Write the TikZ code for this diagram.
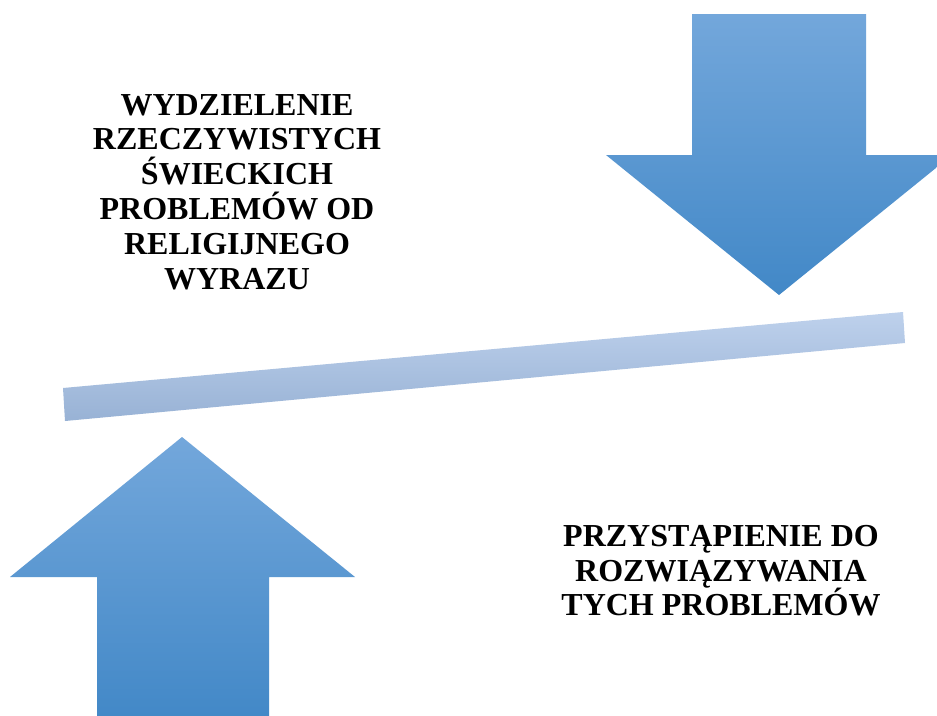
\documentclass[tikz,border=0pt]{standalone}
\usepackage{fontspec}
\setmainfont{Liberation Serif}
\begin{document}
\begin{tikzpicture}[x=1pt,y=-1pt,
  caption/.style={inner sep=0pt, align=center, font=\bfseries\fontsize{32}{34.8}\selectfont},
  bigarrow/.style={top color=arrowlight, bottom color=arrowdark},
  lever/.style={top color=barlight, bottom color=bardark}]
\definecolor{arrowlight}{RGB}{115,167,219}
\definecolor{arrowdark}{RGB}{66,136,199}
\definecolor{barlight}{RGB}{190,209,236}
\definecolor{bardark}{RGB}{152,178,213}
\useasboundingbox (0,0) rectangle (937,715);
\clip (0,0) rectangle (937,715);
\fill[white] (0,0) rectangle (937,715);

% downward arrow, top right
\path[bigarrow] (692,14) -- (866,14) -- (866,155) -- (952,155) -- (779,295)
  -- (606,155) -- (692,155) -- cycle;

% upward arrow, bottom left
\path[bigarrow] (182,437) -- (355,577) -- (269,577) -- (269,720) -- (97,720)
  -- (97,577) -- (10,577) -- cycle;

% tilted bar between the arrows
\path[lever] (63,388) -- (903,312) -- (905,343) -- (65,421) -- cycle;

\node[caption, anchor=north] (upper) at (237,94)
  {WYDZIELENIE\\RZECZYWISTYCH\\ŚWIECKICH\\PROBLEMÓW OD\\RELIGIJNEGO\\WYRAZU};
\node[caption, anchor=north] (lower) at (721,525)
  {PRZYSTĄPIENIE DO\\ROZWIĄZYWANIA\\TYCH PROBLEMÓW};
\end{tikzpicture}
\end{document}
